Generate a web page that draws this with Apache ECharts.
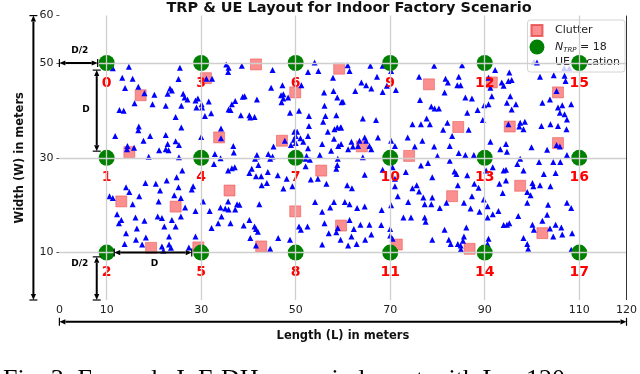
<!DOCTYPE html>
<html>
<head>
<meta charset="utf-8">
<script src="https://cdn.jsdelivr.net/npm/echarts@6/dist/echarts.min.js"></script>
<style>
html, body { margin: 0; padding: 0; background: #fff; }
#chart { width: 640px; height: 374px; }
</style>
</head>
<body>
<div id="chart"></div>
<script>
// TRP grid (x = length, y = width)
var trpX = [10, 30, 50, 70, 90, 110];
var trpY = [50, 30, 10];
var xTicks = [0, 10, 30, 50, 70, 90, 110, 120];
var yTicks = [10, 30, 50, 60];

var clutter = [
  [17.2, 43.2], [14.8, 31.2], [31.0, 46.8], [33.8, 34.3], [41.6, 49.7], [49.9, 43.8],
  [47.1, 33.6], [59.2, 48.8], [78.2, 45.5], [64.0, 32.4], [74.0, 30.4], [84.4, 36.5],
  [91.5, 45.9], [95.3, 36.6], [105.5, 43.8], [105.5, 33.1], [13.1, 20.8], [24.6, 19.7],
  [19.4, 11.0], [29.4, 11.1], [36.0, 23.1], [55.4, 27.3], [49.9, 18.7], [42.7, 11.3],
  [59.6, 15.7], [83.1, 21.9], [71.4, 11.7], [97.5, 24.1], [102.2, 14.1], [86.8, 10.8]
];

var ueLocations = [
  // 10-35, upper half
  [11.3, 48.9], [14.7, 49.2], [25.5, 49.0], [13.3, 46.9], [15.5, 46.7], [25.2, 46.6], [13.9, 44.7],
  [16.7, 45.0], [31.1, 46.7], [32.3, 46.7], [23.4, 44.6], [23.8, 44.2], [22.9, 43.5], [20.1, 43.3],
  [26.2, 43.5], [18.0, 43.6], [26.5, 42.7], [27.1, 42.3], [28.8, 42.1], [29.3, 42.5], [31.6, 41.9],
  [15.9, 41.5], [19.7, 41.3], [22.5, 41.0], [25.8, 41.0], [29.0, 40.6], [30.1, 41.3], [30.2, 40.6],
  [12.7, 40.1], [13.6, 39.9], [32.1, 39.4], [30.8, 38.8], [24.6, 38.6], [25.8, 36.4], [16.8, 36.6],
  [16.7, 35.8], [11.8, 34.6], [19.2, 34.6], [22.5, 34.8], [17.8, 33.6], [24.6, 33.5], [25.3, 32.7],
  [22.9, 32.9], [22.5, 31.8], [21.1, 31.6], [23.1, 31.6], [14.4, 32.5], [14.3, 31.8], [15.8, 32.1],
  [30.0, 34.4], [32.9, 30.8], [34.2, 36.2], [34.2, 34.1], [18.9, 30.2], [25.3, 30.1],
  // 35-60, upper half
  [35.3, 49.7], [35.8, 49.0], [35.7, 48.1], [38.6, 49.4], [45.1, 48.5], [54.0, 50.1], [52.6, 48.1],
  [54.8, 48.3], [57.9, 46.9], [44.8, 44.8], [47.2, 45.3], [51.2, 45.3], [46.9, 43.2], [47.4, 43.4],
  [48.4, 42.7], [47.0, 41.7], [47.4, 42.5], [56.0, 43.8], [58.0, 44.1], [58.8, 42.7], [59.7, 41.7],
  [38.8, 42.9], [39.2, 43.0], [41.8, 42.3], [37.2, 42.0], [36.5, 41.3], [35.8, 40.2], [36.2, 40.1],
  [56.1, 41.0], [38.4, 39.0], [40.2, 39.0], [41.3, 38.6], [40.4, 38.5], [48.8, 39.5], [50.7, 39.9],
  [52.8, 38.8], [56.3, 38.8], [58.6, 39.0], [55.8, 37.6], [52.8, 36.7], [56.8, 35.5], [58.2, 36.0],
  [58.8, 36.4], [59.5, 36.4], [49.7, 35.5], [50.3, 35.5], [50.0, 34.6], [49.6, 33.8], [50.0, 33.1],
  [51.0, 34.1], [52.6, 34.6], [51.6, 33.4], [47.7, 33.6], [49.0, 32.7], [45.3, 32.4], [52.6, 32.0],
  [55.6, 32.9], [58.1, 34.0], [59.0, 32.5], [57.5, 31.5], [55.1, 30.6], [36.8, 32.5], [36.9, 31.1],
  [41.8, 30.6], [44.2, 30.8], [45.1, 30.3], [52.3, 30.4],
  // 60-85, upper half
  [61.0, 49.5], [61.4, 48.3], [65.8, 49.4], [68.4, 49.4], [70.2, 48.3], [79.3, 49.4], [63.9, 45.9],
  [64.9, 45.3], [66.0, 44.6], [62.6, 44.1], [67.2, 47.1], [68.4, 43.9], [71.2, 44.3], [69.3, 45.2],
  [76.1, 47.1], [81.7, 46.7], [82.2, 45.9], [84.5, 47.1], [84.2, 45.3], [84.9, 45.3], [81.5, 43.8],
  [60.0, 41.8], [76.3, 42.2], [78.7, 40.8], [79.4, 40.4], [80.3, 40.4], [77.7, 38.3], [78.4, 37.1],
  [76.5, 37.1], [74.7, 37.1], [82.1, 37.4], [81.2, 35.9], [83.1, 34.6], [64.2, 38.3], [67.0, 38.0],
  [59.6, 36.4], [67.4, 34.3], [64.6, 34.3], [64.9, 33.6], [63.5, 33.6], [63.2, 32.5], [65.6, 32.5],
  [66.0, 31.8], [61.8, 33.4], [62.1, 32.4], [61.1, 31.8], [59.6, 32.9], [70.2, 33.6], [71.0, 32.5],
  [73.7, 34.3], [75.2, 32.4], [76.8, 33.6], [79.3, 32.4], [82.6, 32.5], [84.5, 31.0], [80.0, 30.4],
  [64.2, 30.1],
  // 85-110, upper half
  [85.2, 49.5], [92.2, 48.5], [90.8, 46.9], [91.2, 44.8], [91.5, 43.0], [89.9, 41.1], [90.8, 41.3],
  [85.9, 42.7], [87.3, 42.5], [88.5, 40.1], [86.3, 39.5], [89.6, 38.0], [86.6, 35.9], [95.2, 48.0],
  [95.7, 46.4], [95.0, 46.2], [93.6, 45.9], [94.0, 45.2], [95.4, 43.0], [94.7, 41.6], [96.6, 41.3],
  [95.7, 40.2], [97.5, 37.4], [97.3, 36.6], [98.5, 37.6], [98.2, 36.0], [95.0, 37.1], [100.4, 50.2],
  [101.7, 47.1], [104.6, 47.4], [106.9, 47.3], [107.1, 46.2], [105.2, 44.1], [103.8, 42.3], [102.2, 41.6],
  [105.5, 40.6], [106.4, 41.1], [108.3, 41.3], [105.9, 39.5], [106.9, 39.2], [107.4, 38.1], [103.9, 37.1],
  [102.0, 36.7], [105.5, 36.7], [107.3, 36.0], [91.2, 33.4], [94.5, 32.9], [93.3, 31.8], [94.7, 31.3],
  [99.9, 32.2], [103.2, 31.7], [105.2, 32.7], [105.9, 32.4], [107.4, 30.6], [85.9, 30.6], [87.7, 30.6],
  [106.8, 48.9], [107.9, 48.9],
  // 10-35, lower half
  [26.0, 27.3], [24.8, 25.9], [14.1, 23.8], [14.8, 22.8], [18.2, 24.7], [20.4, 24.5], [21.3, 23.1],
  [22.7, 25.2], [25.2, 23.8], [28.3, 24.0], [28.0, 23.3], [10.6, 21.9], [11.3, 21.5], [15.5, 20.2],
  [16.9, 21.9], [21.0, 20.8], [24.3, 22.1], [25.7, 21.5], [26.6, 19.5], [28.8, 18.8], [30.4, 20.8],
  [12.2, 18.1], [13.1, 16.9], [12.6, 16.2], [16.1, 17.4], [18.0, 16.7], [20.8, 17.6], [21.7, 17.3],
  [23.8, 16.9], [25.7, 17.6], [16.4, 15.1], [22.2, 15.5], [24.6, 15.5], [14.1, 14.1], [18.3, 13.2],
  [23.2, 13.4], [28.8, 13.4], [16.2, 12.7], [13.8, 11.8], [17.5, 11.7], [21.7, 11.3], [23.2, 11.7],
  [23.6, 11.0], [27.4, 11.1], [22.0, 10.4], [32.7, 28.7], [34.1, 29.9], [31.8, 18.8], [34.1, 19.5],
  [33.6, 16.2], [32.2, 15.2],
  // 35-60, lower half
  [35.7, 27.3], [36.5, 27.8], [37.1, 28.0], [40.7, 27.7], [40.2, 26.8], [41.6, 26.1], [42.7, 26.1],
  [42.1, 28.5], [41.4, 29.8], [41.8, 30.3], [44.1, 27.0], [44.6, 29.8], [46.2, 26.3], [48.1, 25.6],
  [42.8, 24.2], [43.9, 24.7], [47.4, 23.5], [49.3, 24.0], [52.1, 29.8], [53.0, 29.6], [52.1, 28.2],
  [54.7, 25.6], [53.2, 25.4], [56.5, 24.5], [58.6, 27.7], [58.9, 29.8], [58.8, 28.5], [35.7, 20.8],
  [35.1, 19.3], [37.6, 20.2], [38.1, 20.1], [37.2, 19.1], [35.8, 19.1], [34.3, 17.6], [42.3, 20.2],
  [36.2, 16.2], [39.0, 15.7], [40.2, 16.9], [41.3, 15.5], [41.6, 15.0], [42.0, 14.4], [46.3, 13.1],
  [48.8, 12.7], [50.7, 15.5], [51.1, 14.8], [52.5, 15.5], [54.1, 20.7], [55.6, 18.6], [58.1, 20.7],
  [57.3, 19.5], [56.1, 16.2], [58.9, 15.2], [58.6, 14.3], [57.0, 14.1], [55.6, 11.7], [59.5, 12.7],
  [40.4, 13.1], [41.6, 11.5], [44.6, 10.8],
  // 60-85, lower half
  [64.6, 26.4], [68.4, 27.5], [70.5, 28.0], [73.3, 27.0], [71.0, 25.6], [71.0, 24.0], [76.5, 28.4],
  [78.0, 28.9], [82.6, 29.4], [83.6, 27.1], [84.0, 26.6], [78.9, 25.9], [84.3, 24.2], [74.7, 23.6],
  [75.6, 24.2], [76.1, 22.9], [77.0, 21.6], [78.9, 21.6], [77.3, 20.2], [78.7, 20.2], [80.5, 19.4],
  [81.9, 20.5], [60.9, 24.2], [61.9, 23.6], [71.6, 21.9], [70.2, 20.0], [73.8, 20.7], [60.4, 20.7],
  [61.4, 20.2], [63.0, 19.4], [64.6, 19.7], [68.2, 19.0], [72.8, 17.4], [74.4, 17.4], [77.3, 17.4],
  [77.5, 16.5], [81.5, 14.8], [61.4, 16.9], [62.3, 15.0], [63.7, 15.9], [65.6, 15.9], [68.1, 15.8],
  [70.0, 15.0], [70.0, 13.6], [70.5, 12.9], [61.8, 13.4], [61.1, 11.5], [62.9, 11.8], [64.7, 12.7],
  [66.0, 13.8], [78.9, 12.7], [82.4, 12.7], [82.8, 11.8], [84.3, 11.8], [84.9, 10.6],
  // 85-110, lower half
  [97.5, 29.8], [96.9, 28.7], [101.5, 29.1], [104.5, 29.1], [106.0, 29.1], [102.5, 26.6], [105.0, 26.8],
  [94.0, 27.3], [94.5, 27.5], [91.7, 28.0], [90.3, 27.3], [98.2, 27.3], [86.3, 26.3], [87.8, 24.5],
  [88.7, 23.7], [94.5, 25.2], [93.1, 24.5], [100.1, 24.7], [100.3, 24.0], [101.7, 24.2], [103.9, 24.0],
  [93.8, 22.6], [99.0, 22.8], [99.7, 22.1], [87.3, 21.9], [89.8, 21.2], [85.6, 20.5], [87.0, 19.3],
  [90.6, 19.8], [88.9, 18.6], [91.7, 18.1], [90.6, 17.4], [92.9, 18.8], [99.0, 20.5], [103.4, 20.1],
  [107.4, 20.5], [108.3, 19.4], [103.2, 18.0], [102.2, 16.7], [97.1, 17.7], [94.0, 15.8], [94.7, 15.9],
  [95.2, 16.2], [100.1, 15.9], [100.4, 14.8], [105.0, 15.9], [106.2, 15.3], [103.8, 15.1], [106.4, 13.8],
  [108.5, 14.1], [104.5, 13.4], [86.1, 15.3], [85.6, 13.4], [85.4, 12.5], [84.9, 11.5], [85.0, 10.6],
  [98.2, 13.1], [99.0, 11.8], [99.2, 10.8], [90.8, 12.9], [90.6, 11.8], [108.3, 10.6]
];

// TRPs numbered down each column: 0,1,2 at x=10 ...
var trpPoints = [];
trpX.forEach(function (x) {
  trpY.forEach(function (y) {
    trpPoints.push([x, y]);
  });
});

var FONT = 'DejaVu Sans';
var myChart = echarts.init(document.getElementById('chart'));

var gridLines = trpX.map(function (x) { return { xAxis: x }; })
  .concat(trpY.map(function (y) { return { yAxis: y }; }));

var option = {
  animation: false,
  backgroundColor: '#fff',
  textStyle: { fontFamily: FONT },
  title: {
    text: 'TRP & UE Layout for Indoor Factory Scenario',
    left: 344,
    textAlign: 'center',
    top: -4,
    textStyle: { fontFamily: FONT, fontSize: 14.5, fontWeight: 'bold', color: '#111' }
  },
  grid: { left: 59.4, right: 9.7, top: 15.6, bottom: 74 },
  legend: {
    orient: 'vertical',
    right: 15,
    top: 20,
    itemWidth: 26,
    itemHeight: 15,
    itemGap: 0.5,
    padding: [2, 5, 2, 1],
    backgroundColor: 'rgba(255,255,255,0.8)',
    borderColor: '#d4d4d4',
    borderWidth: 1,
    borderRadius: 3,
    data: [
      { name: 'Clutter', icon: 'path://M0,0h0.01M15,15h0.01M2,2h11v11h-11z' },
      { name: 'TRP', icon: 'circle' },
      { name: 'UE Location', icon: 'path://M0,0h0.01M15,15h0.01M4.5,10.5L7.5,4.5L10.5,10.5z' }
    ],
    formatter: function (name) {
      return name === 'TRP' ? '{n|N}{s|TRP}{t| = 18}' : name;
    },
    textStyle: {
      fontFamily: FONT, fontSize: 11, color: '#222',
      rich: {
        n: { fontFamily: FONT, fontSize: 11, fontStyle: 'italic', color: '#222' },
        s: { fontFamily: FONT, fontSize: 7, fontStyle: 'italic', color: '#222', padding: [6, 0, 0, 0] },
        t: { fontFamily: FONT, fontSize: 11, color: '#222' }
      }
    }
  },
  xAxis: {
    type: 'value', min: 0, max: 120,
    name: 'Length (L) in meters', nameLocation: 'middle', nameGap: 30,
    nameTextStyle: { fontFamily: FONT, fontSize: 11.5, fontWeight: 'bold', color: '#111' },
    axisLine: { show: false },
    axisTick: { show: false },
    splitLine: { show: false },
    axisLabel: { customValues: xTicks, margin: 5, fontFamily: FONT, fontSize: 11, color: '#222' }
  },
  yAxis: {
    type: 'value', min: 0, max: 60,
    name: 'Width (W) in meters', nameLocation: 'middle', nameGap: 33,
    nameTextStyle: { fontFamily: FONT, fontSize: 11.5, fontWeight: 'bold', color: '#111' },
    axisLine: { show: false },
    axisTick: { show: true, customValues: yTicks, length: 3, lineStyle: { color: '#555' } },
    splitLine: { show: false },
    axisLabel: { customValues: yTicks, margin: 6, fontFamily: FONT, fontSize: 11, color: '#222' }
  },
  series: [
    {
      name: 'grid', type: 'scatter', data: [], silent: true, z: 0,
      markLine: {
        silent: true, symbol: ['none', 'none'], label: { show: false },
        lineStyle: { color: '#cfcfcf', width: 1.3, type: 'solid' },
        data: gridLines
      }
    },
    {
      name: 'spine', type: 'scatter', data: [], silent: true, z: 0,
      markLine: {
        silent: true, symbol: ['none', 'none'], label: { show: false },
        lineStyle: { color: '#333', width: 1, type: 'solid' },
        data: [{ xAxis: 120 }]
      }
    },
    {
      name: 'Clutter', type: 'scatter', data: clutter, z: 2,
      symbol: 'rect', symbolSize: 11,
      itemStyle: { color: 'rgba(250,110,110,0.78)', borderColor: 'rgba(230,70,70,0.8)', borderWidth: 0.6, opacity: 1 }
    },
    {
      name: 'UE Location', type: 'scatter', data: ueLocations, z: 3,
      symbol: 'triangle', symbolSize: 6,
      itemStyle: { color: '#0000ff', opacity: 1, borderWidth: 0 }
    },
    {
      name: 'TRP', type: 'scatter', data: trpPoints, z: 4,
      symbol: 'circle', symbolSize: 16,
      itemStyle: { color: '#008000', opacity: 1, borderWidth: 0 },
      label: {
        show: true, position: 'inside', offset: [0, 20],
        formatter: function (p) { return String(p.dataIndex); },
        fontFamily: FONT, fontSize: 14, fontWeight: 'bold', color: '#ff0000'
      }
    }
  ]
};
myChart.setOption(option);

// dimension arrows, placed in data space and converted to pixels
function px(pt) { return myChart.convertToPixel({ gridIndex: 0 }, pt); }

function arrow(a, b, w) {
  var dx = b[0] - a[0], dy = b[1] - a[1];
  var len = Math.sqrt(dx * dx + dy * dy);
  var ux = dx / len, uy = dy / len, nx = -uy, ny = ux;
  var head = 6, hw = 2.6, bar = 4;
  var st = { stroke: '#000', lineWidth: w || 2 };
  var out = [];
  out.push({ type: 'line', shape: { x1: a[0] + ux * head, y1: a[1] + uy * head, x2: b[0] - ux * head, y2: b[1] - uy * head }, style: st, z: 10 });
  [[a, 1], [b, -1]].forEach(function (e) {
    var p = e[0], s = e[1];
    out.push({ type: 'polygon', shape: { points: [
      [p[0], p[1]],
      [p[0] + s * ux * head + nx * hw, p[1] + s * uy * head + ny * hw],
      [p[0] + s * ux * head - nx * hw, p[1] + s * uy * head - ny * hw]
    ] }, style: { fill: '#000' }, z: 10 });
    out.push({ type: 'line', shape: { x1: p[0] + nx * bar, y1: p[1] + ny * bar, x2: p[0] - nx * bar, y2: p[1] - ny * bar }, style: { stroke: '#000', lineWidth: 1.2 }, z: 10 });
  });
  return out;
}

function label(text, pt, size) {
  var p = px(pt);
  return { type: 'text', x: p[0], y: p[1], z: 10,
    style: { text: text, fontFamily: FONT, fontSize: size || 9, fontWeight: 'bold', fill: '#000', align: 'center', verticalAlign: 'middle' } };
}

var g = [];
g = g.concat(arrow(px([-5.5, 60]), px([-5.5, 0]), 2));
g = g.concat(arrow(px([0, -4.6]), px([120, -4.6]), 2));
g = g.concat(arrow(px([0, 50]), px([8.1, 50])));
g = g.concat(arrow(px([7.9, 48.5]), px([7.9, 31.4])));
g = g.concat(arrow(px([7.9, 9.1]), px([7.9, 0])));
g = g.concat(arrow(px([11.6, 10]), px([28.0, 10])));
g.push(label('D/2', [4.3, 52.7]));
g.push(label('D', [5.6, 40.1]));
g.push(label('D/2', [4.3, 7.7]));
g.push(label('D', [20.1, 7.7]));
g.push({ type: 'text', left: 3, top: 367, z: 10,
  style: { text: 'Fig. 3: Example InF-DH scenario layout with L = 120', fontFamily: 'Liberation Serif', fontSize: 26, fill: '#000' } });

myChart.setOption({ graphic: g });
</script>
</body>
</html>
